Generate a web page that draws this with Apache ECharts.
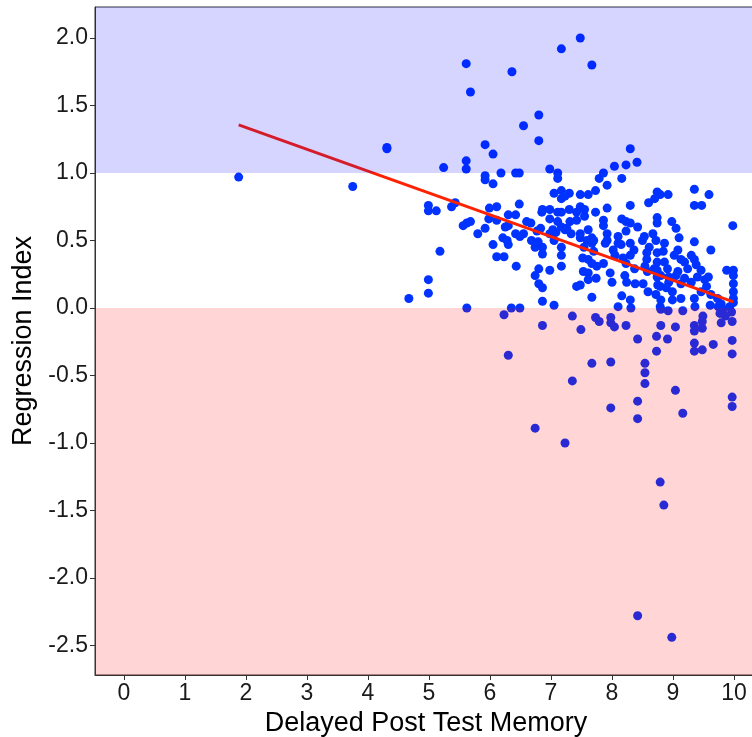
<!DOCTYPE html>
<html>
<head>
<meta charset="utf-8">
<script src="https://cdn.jsdelivr.net/npm/echarts@6/dist/echarts.min.js"></script>
<style>
  html, body { margin: 0; padding: 0; background: #ffffff; }
  #chart { width: 752px; height: 737px; }
</style>
</head>
<body>
<div id="chart"></div>
<script>
// [delayed post test memory, regression index] per participant
const scorePairs = [
  [1.88,0.97],[3.75,0.90],[4.31,1.19],[4.31,1.18],[5.24,1.04],[4.99,0.76],[4.99,0.72],[5.12,0.72],[5.37,0.75],[5.43,0.78],
  [5.18,0.42],[4.99,0.21],[4.99,0.11],[4.67,0.07],[5.56,0.61],[5.62,0.63],[5.68,0.64],[5.61,1.81],[5.68,1.60],[5.61,1.09],
  [5.61,1.03],[5.62,0.00],[5.80,0.55],[5.92,1.21],[6.05,1.14],[5.92,0.98],[5.92,0.95],[6.05,0.92],[6.18,1.00],[6.36,1.75],
  [6.55,1.35],[6.80,1.43],[6.80,1.24],[6.42,1.00],[6.48,1.00],[5.99,0.74],[6.11,0.75],[5.98,0.66],[6.11,0.65],[5.92,0.59],
  [6.30,0.69],[6.42,0.69],[6.48,0.77],[6.25,0.60],[6.30,0.61],[6.42,0.55],[6.55,0.55],[6.60,0.64],[6.67,0.63],[6.21,0.52],
  [6.28,0.50],[6.49,0.53],[6.05,0.47],[6.30,0.47],[6.11,0.38],[6.23,0.38],[6.43,0.31],[6.68,0.50],[6.74,0.45],[6.79,0.49],
  [6.35,0.00],[6.49,0.00],[6.23,-0.05],[6.30,-0.35],[6.74,-0.89],[6.80,0.29],[6.74,0.24],[6.80,0.18],[6.86,0.15],[6.85,0.71],
  [6.77,0.57],[6.83,0.59],[6.86,0.45],[6.86,0.40],[6.86,0.05],[7.05,0.02],[6.86,-0.13],[6.98,0.28],[6.98,1.03],[7.11,1.00],
  [7.11,0.96],[7.17,1.92],[7.48,2.00],[7.67,1.80],[7.05,0.85],[7.17,0.87],[7.30,0.85],[7.17,0.81],[7.23,0.83],[7.48,0.84],
  [7.61,0.84],[7.73,0.87],[7.79,0.96],[7.86,1.00],[6.86,0.73],[6.98,0.73],[6.98,0.66],[7.11,0.71],[7.17,0.71],[7.11,0.64],
  [7.17,0.60],[7.23,0.58],[7.30,0.73],[7.42,0.71],[7.42,0.65],[7.48,0.75],[7.55,0.73],[7.55,0.68],[7.73,0.71],[6.98,0.55],
  [7.33,0.55],[7.48,0.55],[7.61,0.58],[7.67,0.52],[7.26,0.59],[7.48,0.52],[7.59,0.50],[7.67,0.48],[7.05,0.50],[7.17,0.45],
  [7.17,0.39],[7.17,0.31],[7.52,0.37],[7.61,0.36],[7.67,0.33],[7.75,0.31],[7.61,0.26],[7.74,0.22],[7.61,0.21],[7.42,0.16],
  [7.48,0.17],[7.67,0.08],[7.35,-0.06],[7.49,-0.16],[7.73,-0.07],[7.79,-0.10],[7.67,-0.41],[7.35,-0.54],[7.23,-1.00],[7.31,0.64],
  [7.08,0.56],[7.54,0.45],[7.70,0.50],[7.70,0.42],[7.53,0.27],[7.03,0.58],[8.04,1.05],[8.30,1.18],[8.23,1.06],[8.41,1.08],
  [8.16,0.96],[7.92,0.91],[7.92,0.74],[7.86,0.65],[7.86,0.61],[7.92,0.55],[7.92,0.50],[7.89,0.48],[7.97,0.26],[8.00,0.19],
  [8.10,0.53],[8.10,0.48],[8.02,0.43],[8.05,0.39],[8.16,0.66],[8.23,0.64],[8.30,0.63],[8.42,0.60],[8.30,0.76],[8.60,0.78],
  [8.23,0.57],[8.30,0.48],[8.36,0.43],[8.30,0.39],[8.57,0.41],[8.57,0.36],[8.54,0.31],[8.67,0.55],[8.53,0.53],[8.50,0.50],
  [8.72,0.50],[8.74,0.67],[8.74,0.63],[8.74,0.86],[8.79,0.84],[8.92,0.84],[8.70,0.81],[8.74,0.41],[8.74,0.34],[8.74,0.28],
  [8.74,0.23],[8.61,0.45],[8.21,0.24],[8.24,0.19],[8.38,0.18],[8.51,0.18],[8.59,0.12],[8.79,0.16],[8.16,0.09],[8.30,0.06],
  [8.10,0.01],[7.98,-0.07],[7.98,-0.11],[8.04,-0.14],[7.98,-0.40],[7.98,-0.74],[8.42,-0.23],[8.42,-0.69],[8.42,-0.82],[8.54,-0.41],
  [8.54,-0.48],[8.54,-0.56],[8.73,-0.21],[8.73,-0.32],[8.42,-2.28],[8.79,-1.29],[8.85,-1.46],[8.15,0.47],[8.84,0.42],[8.18,0.37],
  [8.23,0.33],[8.37,0.29],[8.58,0.27],[8.69,0.29],[8.75,0.17],[8.72,0.10],[8.80,0.06],[8.31,0.00],[8.23,-0.13],[8.80,-0.01],
  [8.80,-0.13],[7.86,0.33],[8.98,0.64],[9.05,0.59],[9.10,0.52],[8.86,0.48],[9.35,0.88],[9.59,0.84],[9.35,0.76],[9.47,0.76],
  [9.98,0.61],[9.35,0.49],[9.62,0.43],[9.02,0.39],[9.08,0.43],[9.13,0.36],[9.19,0.34],[9.30,0.39],[9.35,0.36],[9.38,0.32],
  [9.24,0.29],[9.08,0.27],[9.05,0.24],[9.19,0.22],[9.30,0.19],[9.40,0.23],[9.46,0.28],[8.86,0.34],[8.91,0.29],[8.80,0.24],
  [8.93,0.23],[8.93,0.19],[8.89,0.15],[8.99,0.12],[9.13,0.18],[9.52,0.21],[9.58,0.23],[9.55,0.16],[9.88,0.28],[9.99,0.28],
  [9.99,0.18],[9.99,0.12],[9.99,0.07],[8.99,0.06],[9.13,0.07],[9.46,0.12],[9.35,0.07],[9.62,0.10],[9.73,0.07],[9.79,0.03],
  [9.16,-0.02],[9.36,0.01],[9.61,0.02],[9.74,0.01],[9.82,-0.01],[9.96,-0.03],[9.93,0.01],[8.92,-0.02],[8.79,0.01],[9.49,-0.06],
  [9.04,-0.14],[9.35,-0.13],[9.35,-0.17],[9.48,-0.10],[9.48,-0.15],[9.35,-0.26],[9.35,-0.32],[9.48,-0.31],[9.66,-0.27],[9.79,-0.11],
  [9.97,-0.10],[9.97,-0.24],[9.97,-0.34],[9.97,-0.66],[9.97,-0.73],[8.91,-0.23],[9.04,-0.61],[9.16,-0.78],[8.98,-2.44],[9.86,-0.06],
  [9.77,-0.04],[9.99,0.24],[9.99,0.04]
];

// Linear fit of regression index on memory score
const fitIntercept = 1.66;
const fitSlope = -0.1616;

const xTicks = [0, 1, 2, 3, 4, 5, 6, 7, 8, 9, 10];
const yTicks = [-2.5, -2.0, -1.5, -1.0, -0.5, 0.0, 0.5, 1.0, 1.5, 2.0];

// Axis extents
const X_MIN = -0.475, X_MAX = 10.377;
const Y_MIN = -2.719, Y_MAX = 2.230;

// Shaded zones [from, to, fill]: above 1 and below 0
const zoneBounds = [
  [1, Y_MAX, 'rgba(0,0,255,0.165)'],
  [Y_MIN, 0, 'rgba(255,0,0,0.165)']
];

const xs = scorePairs.map(p => p[0]);
const fitStart = Math.min(...xs);
const fitEnd = Math.max(...xs);
const fitLine = [fitStart, fitEnd].map(x => [x, fitIntercept + fitSlope * x]);

const FONT = '"Liberation Sans", Arial, Helvetica, sans-serif';

const chart = echarts.init(document.getElementById('chart'), null, { renderer: 'canvas' });

chart.setOption({
  animation: false,
  backgroundColor: '#ffffff',
  grid: {
    left: 95, top: 7, right: -5, bottom: 62,
    containLabel: false,
    outerBoundsMode: 'none',
    show: true, borderColor: '#333333', borderWidth: 1, backgroundColor: 'transparent'
  },
  xAxis: {
    type: 'value', min: X_MIN, max: X_MAX,
    name: 'Delayed Post Test Memory', nameLocation: 'middle', nameGap: 32,
    nameTextStyle: { fontFamily: FONT, fontSize: 27, color: '#000000' },
    splitLine: { show: false },
    axisLine: { show: true, onZero: false, lineStyle: { color: '#333333', width: 1 } },
    axisTick: { show: true, customValues: xTicks, length: 5, lineStyle: { color: '#333333' } },
    axisLabel: {
      customValues: xTicks, margin: 7,
      fontFamily: FONT, fontSize: 23, color: '#1a1a1a',
      formatter: v => String(v)
    }
  },
  yAxis: {
    type: 'value', min: Y_MIN, max: Y_MAX,
    name: 'Regression Index', nameLocation: 'middle', nameGap: 58,
    nameTextStyle: { fontFamily: FONT, fontSize: 27, color: '#000000' },
    splitLine: { show: false },
    axisLine: { show: true, onZero: false, lineStyle: { color: '#333333', width: 1 } },
    axisTick: { show: true, customValues: yTicks, length: 5, lineStyle: { color: '#333333' } },
    axisLabel: {
      customValues: yTicks, margin: 7,
      fontFamily: FONT, fontSize: 23, color: '#1a1a1a',
      formatter: v => v.toFixed(1)
    }
  },
  series: [
    {
      type: 'scatter',
      data: scorePairs,
      symbol: 'circle',
      symbolSize: 9,
      itemStyle: { color: '#0033ff', opacity: 1 },
      z: 2,
      silent: true
    },
    {
      type: 'line',
      data: fitLine,
      symbol: 'none',
      lineStyle: { color: '#ff2200', width: 3 },
      z: 3,
      silent: true
    },
    {
      // translucent zones laid over the marks
      type: 'custom',
      data: zoneBounds,
      z: 10,
      silent: true,
      clip: true,
      renderItem: (params, api) => {
        const topLeft = api.coord([X_MIN, api.value(1)]);
        const bottomRight = api.coord([X_MAX, api.value(0)]);
        return {
          type: 'rect',
          shape: {
            x: topLeft[0], y: topLeft[1],
            width: bottomRight[0] - topLeft[0],
            height: bottomRight[1] - topLeft[1]
          },
          style: { fill: zoneBounds[params.dataIndex][2] }
        };
      }
    }
  ]
});
</script>
</body>
</html>
